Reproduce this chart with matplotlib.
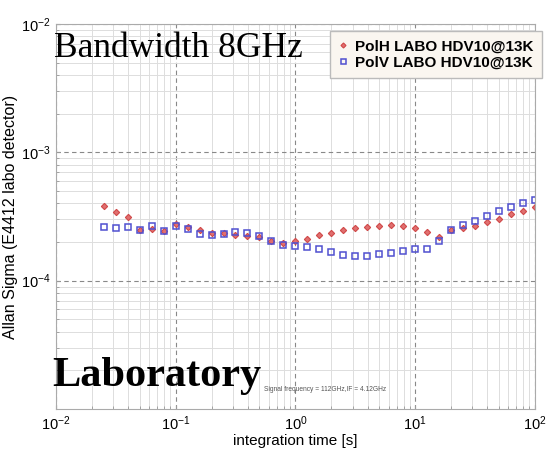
import numpy as np
import matplotlib
matplotlib.use("Agg")
import matplotlib.pyplot as plt

# integration times: 10^-1.6 ... 10^2.0 in 0.1-decade steps
log_tau = [-1.6, -1.5, -1.4, -1.3, -1.2, -1.1, -1.0, -0.9, -0.8, -0.7,
           -0.6, -0.5, -0.4, -0.3, -0.2, -0.1, 0.0, 0.1, 0.2, 0.3,
           0.4, 0.5, 0.6, 0.7, 0.8, 0.9, 1.0, 1.1, 1.2, 1.3,
           1.4, 1.5, 1.6, 1.7, 1.8, 1.9, 2.0]
tau = [10 ** v for v in log_tau]

# Allan sigma, units of 1e-4
pol_h = [3.83, 3.44, 3.15, 2.49, 2.52, 2.44, 2.77, 2.64, 2.47, 2.36,
         2.33, 2.28, 2.21, 2.17, 2.05, 1.98, 2.02, 2.12, 2.25, 2.33,
         2.46, 2.56, 2.64, 2.67, 2.70, 2.67, 2.56, 2.38, 2.19, 2.47,
         2.58, 2.67, 2.84, 3.03, 3.28, 3.48, 3.76]
pol_v = [2.63, 2.55, 2.63, 2.49, 2.68, 2.44, 2.68, 2.53, 2.32, 2.28,
         2.30, 2.38, 2.36, 2.23, 2.05, 1.91, 1.87, 1.82, 1.75, 1.68,
         1.59, 1.56, 1.56, 1.60, 1.63, 1.69, 1.77, 1.77, 2.02, 2.50,
         2.69, 2.93, 3.18, 3.46, 3.76, 4.05, 4.27]
pol_h = [v * 1e-4 for v in pol_h]
pol_v = [v * 1e-4 for v in pol_v]

plt.rcParams['font.family'] = ['Liberation Sans', 'DejaVu Sans']

fig = plt.figure(figsize=(5.47, 4.5), dpi=100)
ax = fig.add_axes([0.102, 0.091, 0.876, 0.856])

ax.plot(tau, pol_h, linestyle='none', marker='D', markersize=3.2,
        markerfacecolor='#e07070', markeredgecolor='#d04848', markeredgewidth=0.8,
        label="PolH LABO HDV10@13K")
ax.plot(tau, pol_v, linestyle='none', marker='s', markersize=4.5,
        markerfacecolor='none', markeredgecolor='#5050d0', markeredgewidth=1.1,
        label="PolV LABO HDV10@13K")

ax.set_xscale('log')
ax.set_yscale('log')
ax.set_xlim(1e-2, 1e2)
ax.set_ylim(1e-5, 1e-2)

ax.grid(True, which='major', color='#888888', linestyle=(0, (4, 3)), linewidth=0.8)
ax.grid(True, which='minor', color='#dddddd', linestyle='-', linewidth=0.7)
ax.tick_params(which='both', direction='in', length=3, color='#999999', labelsize=10.5)
ax.tick_params(which='minor', length=2)
for s in ax.spines.values():
    s.set_color('#aaaaaa')
# the bottom y label (1e-5) is not shown in the original
ax.set_yticks([1e-4, 1e-3, 1e-2])

ax.set_xlabel("integration time [s]", fontsize=11, labelpad=1)
ax.set_ylabel("Allan Sigma (E4412 labo detector)", fontsize=11.5, labelpad=2)

leg = ax.legend(loc='upper right', prop={'weight': 'bold', 'size': 11},
                bbox_to_anchor=(0.991, 0.931), bbox_transform=fig.transFigure,
                frameon=True, fancybox=False, borderpad=0.55, handlelength=0.6,
                handletextpad=0.5, labelspacing=0.15, borderaxespad=0,
                markerscale=0.8)
leg.get_frame().set_facecolor('#faf6f0')
leg.get_frame().set_edgecolor('#bbbbbb')
leg.get_frame().set_alpha(1)

fig.text(0.098, 0.892, "Bandwidth 8GHz", family='Liberation Serif', fontsize=25.5,
         va='center', ha='left')
fig.text(0.096, 0.165, "Laboratory", family='Liberation Serif', fontsize=30.5,
         fontweight='bold', va='center', ha='left')
fig.text(0.482, 0.135, "Signal frequency = 112GHz,IF = 4.12GHz", fontsize=4.8,
         color='#555555', va='center', ha='left')

fig.savefig("out.png", dpi=100)
